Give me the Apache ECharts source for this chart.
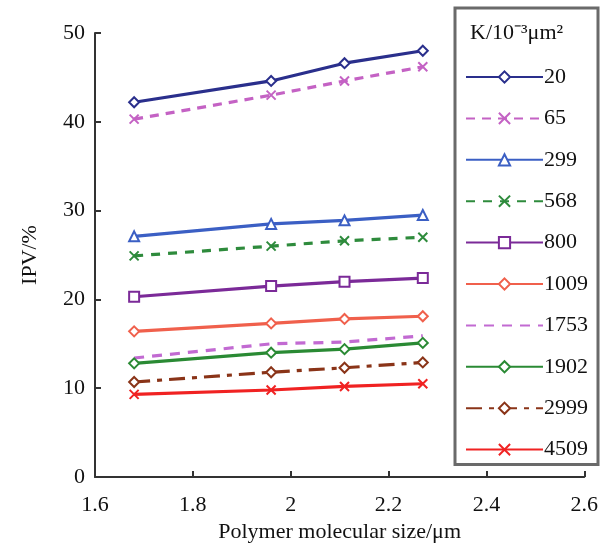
<!DOCTYPE html>
<html>
<head>
<meta charset="utf-8">
<title>IPV vs polymer size</title>
<script src="https://cdn.jsdelivr.net/npm/echarts@6/dist/echarts.min.js"></script>
<style>
html, body { margin: 0; padding: 0; background: #fff; }
#chart { width: 601px; height: 549px; }
</style>
</head>
<body>
<div id="chart"></div>
<script>
// molecular size, um
var sizes = [1.68, 1.96, 2.11, 2.27];
var perms = ['20', '65', '299', '568', '800', '1009', '1753', '1902', '2999', '4509'];
var ipv20 = [42.2, 44.6, 46.6, 48.0];
var ipv65 = [40.3, 43.0, 44.6, 46.2];
var ipv299 = [27.1, 28.5, 28.9, 29.5];
var ipv568 = [24.9, 26.0, 26.6, 27.0];
var ipv800 = [20.3, 21.5, 22.0, 22.4];
var ipv1009 = [16.4, 17.3, 17.8, 18.1];
var ipv1753 = [13.4, 15.0, 15.2, 15.9];
var ipv1902 = [12.8, 14.0, 14.4, 15.1];
var ipv2999 = [10.7, 11.8, 12.3, 12.9];
var ipv4509 = [9.3, 9.8, 10.2, 10.5];
var xTicks = [1.6, 1.8, 2, 2.2, 2.4, 2.6];
var yTicks = [0, 10, 20, 30, 40, 50];

var allVals = [ipv20, ipv65, ipv299, ipv568, ipv800, ipv1009, ipv1753, ipv1902, ipv2999, ipv4509];
var cross = 'path://M0,0L10,10M10,0L0,10';
var styles = [
  { c: '#2a2f8c', sym: 'diamond', dash: 'solid' },
  { c: '#c462c4', sym: cross, dash: [9, 7] },
  { c: '#3b5fc4', sym: 'triangle', dash: 'solid' },
  { c: '#2e8b3c', sym: cross, dash: [9, 8] },
  { c: '#7b2a98', sym: 'rect', dash: 'solid' },
  { c: '#f0604c', sym: 'diamond', dash: 'solid' },
  { c: '#c26ad2', sym: 'none', dash: [10, 8] },
  { c: '#2a8a34', sym: 'diamond', dash: 'solid' },
  { c: '#8a3418', sym: 'diamond', dash: [16, 7, 5, 7] },
  { c: '#f02222', sym: cross, dash: 'solid' }
];

var font = 'Liberation Serif';
var series = perms.map(function (p, i) {
  var s = styles[i];
  return {
    name: p,
    type: 'line',
    data: sizes.map(function (x, j) { return [x, allVals[i][j]]; }),
    symbol: s.sym,
    symbolSize: s.sym === cross ? 9 : 10,
    lineStyle: { color: s.c, width: 3.2, type: s.dash },
    itemStyle: { color: '#fff', borderColor: s.c, borderWidth: 2 },
    emphasis: { disabled: true },
    z: 2
  };
});

var legendData = perms.map(function (p, i) {
  if (styles[i].sym === 'none') {
    return { name: p, itemStyle: { opacity: 0 } };
  }
  return { name: p };
});

var chart = echarts.init(document.getElementById('chart'));
chart.setOption({
  animation: false,
  grid: { left: 95, right: 14, top: 33, bottom: 72 },
  xAxis: {
    type: 'value', min: 1.6, max: 2.6, interval: 0.2,
    name: 'Polymer molecular size/\u03bcm', nameLocation: 'middle', nameGap: 38,
    nameTextStyle: { fontFamily: font, fontSize: 22, color: '#111' },
    axisLine: { lineStyle: { color: '#333', width: 2 } },
    axisTick: { inside: true, length: 6, lineStyle: { color: '#333', width: 2 } },
    axisLabel: { fontFamily: font, fontSize: 22, color: '#111', margin: 17,
      formatter: function (v) { return xTicks.indexOf(+v.toFixed(1)) >= 0 ? String(+v.toFixed(1)) : ''; } },
    splitLine: { show: false }
  },
  yAxis: {
    type: 'value', min: 0, max: 50, interval: 10,
    name: 'IPV/%', nameLocation: 'middle', nameGap: 54,
    nameTextStyle: { fontFamily: font, fontSize: 22, color: '#111' },
    axisLine: { show: true, lineStyle: { color: '#333', width: 2 } },
    axisTick: { show: true, inside: true, length: 6, lineStyle: { color: '#333', width: 2 } },
    axisLabel: { fontFamily: font, fontSize: 22, color: '#111', margin: 10,
      formatter: function (v) { return yTicks.indexOf(v) >= 0 ? String(v) : ''; } },
    splitLine: { show: false }
  },
  legend: {
    orient: 'vertical', left: 455, top: 8,
    padding: [58, 10, 4, 10],
    itemWidth: 77, itemHeight: 14, itemGap: 19.4,
    backgroundColor: '#fff', borderColor: '#6a6a6a', borderWidth: 3,
    textStyle: { fontFamily: font, fontSize: 22, color: '#111', padding: [0, 0, 0, -4] },
    data: legendData,
    z: 5
  },
  graphic: [{
    type: 'text', left: 470, top: 22, z: 100,
    style: { text: 'K/10\u207b\u00b3\u03bcm\u00b2', font: '22px "Liberation Serif"', fill: '#111' }
  }],
  series: series
});
</script>
</body>
</html>
